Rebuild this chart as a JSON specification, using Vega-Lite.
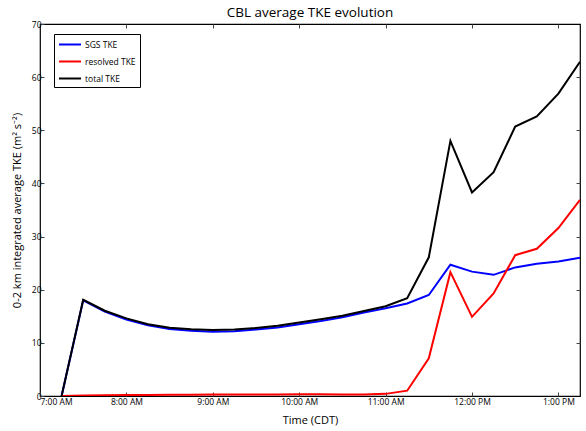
{
  "$schema": "https://vega.github.io/schema/vega-lite/v6.json",
  "width": 540,
  "height": 372,
  "autosize": "none",
  "padding": {"left": 40, "top": 24, "right": 6, "bottom": 35},
  "title": {
    "text": "CBL average TKE evolution",
    "font": "Open Sans",
    "fontSize": 13.5,
    "fontWeight": "normal",
    "color": "#000",
    "offset": 1
  },
  "config": {
    "view": {"stroke": "#000", "strokeWidth": 1.2},
    "font": "Open Sans",
    "axis": {
      "grid": false,
      "domain": false,
      "tickColor": "#444",
      "tickSize": -4,
      "labelFont": "Open Sans",
      "labelFontSize": 8.5,
      "labelColor": "#000",
      "titleFont": "Open Sans",
      "titleFontSize": 11,
      "titleFontWeight": "normal",
      "titleColor": "#000"
    }
  },
  "data": {
    "values": [
      {"time": "2000-01-01T07:15", "series": "SGS TKE", "tke": 0},
      {"time": "2000-01-01T07:30", "series": "SGS TKE", "tke": 18.0},
      {"time": "2000-01-01T07:45", "series": "SGS TKE", "tke": 15.9},
      {"time": "2000-01-01T08:00", "series": "SGS TKE", "tke": 14.4},
      {"time": "2000-01-01T08:15", "series": "SGS TKE", "tke": 13.3},
      {"time": "2000-01-01T08:30", "series": "SGS TKE", "tke": 12.6},
      {"time": "2000-01-01T08:45", "series": "SGS TKE", "tke": 12.3},
      {"time": "2000-01-01T09:00", "series": "SGS TKE", "tke": 12.1},
      {"time": "2000-01-01T09:15", "series": "SGS TKE", "tke": 12.2},
      {"time": "2000-01-01T09:30", "series": "SGS TKE", "tke": 12.5},
      {"time": "2000-01-01T09:45", "series": "SGS TKE", "tke": 12.9},
      {"time": "2000-01-01T10:00", "series": "SGS TKE", "tke": 13.5},
      {"time": "2000-01-01T10:15", "series": "SGS TKE", "tke": 14.1},
      {"time": "2000-01-01T10:30", "series": "SGS TKE", "tke": 14.8},
      {"time": "2000-01-01T10:45", "series": "SGS TKE", "tke": 15.7},
      {"time": "2000-01-01T11:00", "series": "SGS TKE", "tke": 16.5},
      {"time": "2000-01-01T11:15", "series": "SGS TKE", "tke": 17.4},
      {"time": "2000-01-01T11:30", "series": "SGS TKE", "tke": 19.0},
      {"time": "2000-01-01T11:45", "series": "SGS TKE", "tke": 24.7},
      {"time": "2000-01-01T12:00", "series": "SGS TKE", "tke": 23.4},
      {"time": "2000-01-01T12:15", "series": "SGS TKE", "tke": 22.8},
      {"time": "2000-01-01T12:30", "series": "SGS TKE", "tke": 24.2},
      {"time": "2000-01-01T12:45", "series": "SGS TKE", "tke": 24.9},
      {"time": "2000-01-01T13:00", "series": "SGS TKE", "tke": 25.3},
      {"time": "2000-01-01T13:15", "series": "SGS TKE", "tke": 26.0},

      {"time": "2000-01-01T07:15", "series": "resolved TKE", "tke": 0},
      {"time": "2000-01-01T07:30", "series": "resolved TKE", "tke": 0.1},
      {"time": "2000-01-01T07:45", "series": "resolved TKE", "tke": 0.15},
      {"time": "2000-01-01T08:00", "series": "resolved TKE", "tke": 0.2},
      {"time": "2000-01-01T08:15", "series": "resolved TKE", "tke": 0.2},
      {"time": "2000-01-01T08:30", "series": "resolved TKE", "tke": 0.25},
      {"time": "2000-01-01T08:45", "series": "resolved TKE", "tke": 0.25},
      {"time": "2000-01-01T09:00", "series": "resolved TKE", "tke": 0.3},
      {"time": "2000-01-01T09:15", "series": "resolved TKE", "tke": 0.3},
      {"time": "2000-01-01T09:30", "series": "resolved TKE", "tke": 0.3},
      {"time": "2000-01-01T09:45", "series": "resolved TKE", "tke": 0.3},
      {"time": "2000-01-01T10:00", "series": "resolved TKE", "tke": 0.35},
      {"time": "2000-01-01T10:15", "series": "resolved TKE", "tke": 0.35},
      {"time": "2000-01-01T10:30", "series": "resolved TKE", "tke": 0.3},
      {"time": "2000-01-01T10:45", "series": "resolved TKE", "tke": 0.3},
      {"time": "2000-01-01T11:00", "series": "resolved TKE", "tke": 0.4},
      {"time": "2000-01-01T11:15", "series": "resolved TKE", "tke": 1.0},
      {"time": "2000-01-01T11:30", "series": "resolved TKE", "tke": 7.1},
      {"time": "2000-01-01T11:45", "series": "resolved TKE", "tke": 23.3},
      {"time": "2000-01-01T12:00", "series": "resolved TKE", "tke": 14.9},
      {"time": "2000-01-01T12:15", "series": "resolved TKE", "tke": 19.3},
      {"time": "2000-01-01T12:30", "series": "resolved TKE", "tke": 26.5},
      {"time": "2000-01-01T12:45", "series": "resolved TKE", "tke": 27.7},
      {"time": "2000-01-01T13:00", "series": "resolved TKE", "tke": 31.6},
      {"time": "2000-01-01T13:15", "series": "resolved TKE", "tke": 36.9},

      {"time": "2000-01-01T07:15", "series": "total TKE", "tke": 0},
      {"time": "2000-01-01T07:30", "series": "total TKE", "tke": 18.1},
      {"time": "2000-01-01T07:45", "series": "total TKE", "tke": 16.05},
      {"time": "2000-01-01T08:00", "series": "total TKE", "tke": 14.6},
      {"time": "2000-01-01T08:15", "series": "total TKE", "tke": 13.5},
      {"time": "2000-01-01T08:30", "series": "total TKE", "tke": 12.85},
      {"time": "2000-01-01T08:45", "series": "total TKE", "tke": 12.55},
      {"time": "2000-01-01T09:00", "series": "total TKE", "tke": 12.4},
      {"time": "2000-01-01T09:15", "series": "total TKE", "tke": 12.5},
      {"time": "2000-01-01T09:30", "series": "total TKE", "tke": 12.8},
      {"time": "2000-01-01T09:45", "series": "total TKE", "tke": 13.2},
      {"time": "2000-01-01T10:00", "series": "total TKE", "tke": 13.85},
      {"time": "2000-01-01T10:15", "series": "total TKE", "tke": 14.45},
      {"time": "2000-01-01T10:30", "series": "total TKE", "tke": 15.1},
      {"time": "2000-01-01T10:45", "series": "total TKE", "tke": 16.0},
      {"time": "2000-01-01T11:00", "series": "total TKE", "tke": 16.9},
      {"time": "2000-01-01T11:15", "series": "total TKE", "tke": 18.4},
      {"time": "2000-01-01T11:30", "series": "total TKE", "tke": 26.1},
      {"time": "2000-01-01T11:45", "series": "total TKE", "tke": 48.0},
      {"time": "2000-01-01T12:00", "series": "total TKE", "tke": 38.3},
      {"time": "2000-01-01T12:15", "series": "total TKE", "tke": 42.1},
      {"time": "2000-01-01T12:30", "series": "total TKE", "tke": 50.7},
      {"time": "2000-01-01T12:45", "series": "total TKE", "tke": 52.6},
      {"time": "2000-01-01T13:00", "series": "total TKE", "tke": 56.9},
      {"time": "2000-01-01T13:15", "series": "total TKE", "tke": 62.9}
    ]
  },
  "resolve": {"axis": {"x": "independent", "y": "independent"}},
  "layer": [
    {
      "mark": {"type": "line", "strokeWidth": 2, "clip": true},
      "encoding": {
        "x": {
          "field": "time",
          "type": "temporal",
          "scale": {"domain": [
            {"year": 2000, "month": 1, "date": 1, "hours": 7, "minutes": 0},
            {"year": 2000, "month": 1, "date": 1, "hours": 13, "minutes": 15}
          ]},
          "axis": {
            "title": "Time (CDT)",
            "format": "%-I:%M %p",
            "labelPadding": 5,
            "titlePadding": 9,
            "values": [
              {"year": 2000, "month": 1, "date": 1, "hours": 7},
              {"year": 2000, "month": 1, "date": 1, "hours": 8},
              {"year": 2000, "month": 1, "date": 1, "hours": 9},
              {"year": 2000, "month": 1, "date": 1, "hours": 10},
              {"year": 2000, "month": 1, "date": 1, "hours": 11},
              {"year": 2000, "month": 1, "date": 1, "hours": 12},
              {"year": 2000, "month": 1, "date": 1, "hours": 13}
            ]
          }
        },
        "y": {
          "field": "tke",
          "type": "quantitative",
          "scale": {"domain": [0, 70], "nice": false},
          "axis": {
            "title": "0-2 km integrated average TKE (m² s⁻²)",
            "values": [0, 10, 20, 30, 40, 50, 60, 70],
            "labelPadding": 3,
            "titlePadding": 9
          }
        },
        "color": {
          "field": "series",
          "type": "nominal",
          "sort": ["SGS TKE", "resolved TKE", "total TKE"],
          "scale": {
            "domain": ["SGS TKE", "resolved TKE", "total TKE"],
            "range": ["#0000ff", "#ff0000", "#000000"]
          },
          "legend": {
            "title": null,
            "orient": "none",
            "legendX": 14,
            "legendY": 10,
            "symbolType": "M-1,0H3",
            "symbolSize": 121,
            "symbolStrokeWidth": 2,
            "labelFont": "Open Sans",
            "labelFontSize": 8.5,
            "labelColor": "#000",
            "rowPadding": 6,
            "padding": 4,
            "strokeColor": "#000",
            "fillColor": "#fff",
            "labelOffset": 14
          }
        }
      }
    },
    {
      "mark": {"type": "point", "opacity": 0},
      "encoding": {
        "x": {
          "field": "time",
          "type": "temporal",
          "axis": {
            "orient": "top",
            "title": null,
            "labels": false,
            "values": [
              {"year": 2000, "month": 1, "date": 1, "hours": 8},
              {"year": 2000, "month": 1, "date": 1, "hours": 9},
              {"year": 2000, "month": 1, "date": 1, "hours": 10},
              {"year": 2000, "month": 1, "date": 1, "hours": 11},
              {"year": 2000, "month": 1, "date": 1, "hours": 12},
              {"year": 2000, "month": 1, "date": 1, "hours": 13}
            ]
          }
        },
        "y": {
          "field": "tke",
          "type": "quantitative",
          "axis": {
            "orient": "right",
            "title": null,
            "labels": false,
            "values": [10, 20, 30, 40, 50, 60]
          }
        }
      }
    }
  ]
}
